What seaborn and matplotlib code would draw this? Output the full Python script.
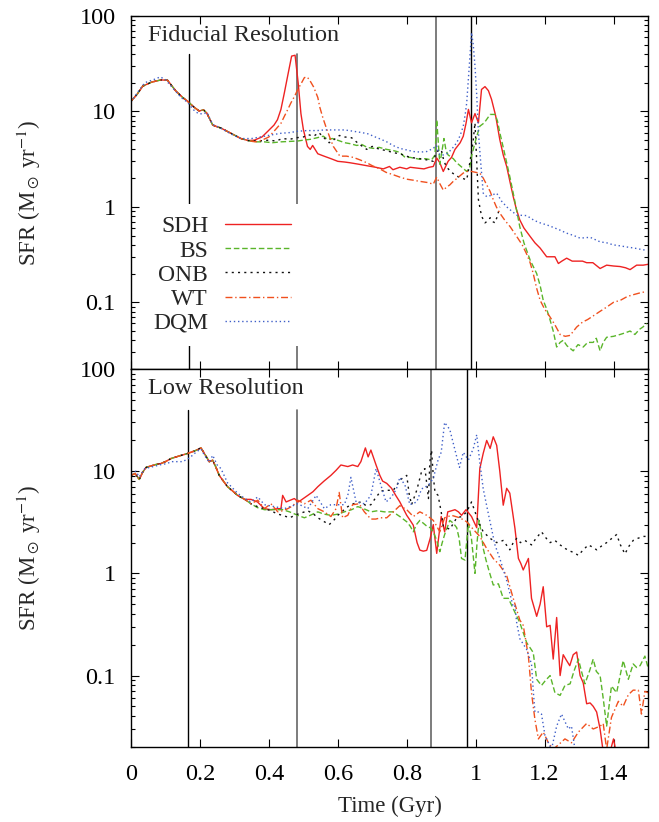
import numpy as np
import pandas as pd
import matplotlib
matplotlib.use("Agg")
import matplotlib.pyplot as plt
from matplotlib.ticker import FixedLocator, LogLocator, NullFormatter, FuncFormatter
import seaborn as sns

# ---------------- data: star formation rate (Msun/yr) vs time (Gyr) ----------------
# shared early history (fiducial resolution)
fid_early_t = [0.0, 0.017, 0.034, 0.06, 0.087, 0.106, 0.13, 0.15, 0.164, 0.184, 0.198, 0.21,
               0.22, 0.237, 0.25, 0.261, 0.29, 0.319, 0.34]
fid_early_v = [12.8, 15.0, 18.4, 20.3, 21.4, 21.2, 16.4, 14.0, 12.8, 11.0, 10.1, 10.4,
               9.6, 7.2, 6.9, 6.7, 5.9, 5.2, 4.95]

fid_sdh_t = [0.358, 0.38, 0.397, 0.415, 0.425, 0.435, 0.445, 0.455, 0.466, 0.476, 0.485, 0.493,
             0.5, 0.512, 0.52, 0.527, 0.542, 0.56, 0.58, 0.6, 0.62, 0.635, 0.66, 0.684, 0.71,
             0.732, 0.75, 0.76, 0.78, 0.8, 0.81, 0.829, 0.85, 0.865, 0.877, 0.887, 0.896,
             0.906, 0.92, 0.93, 0.94, 0.955, 0.964, 0.972, 0.979, 0.988, 0.998, 1.008, 1.017,
             1.027, 1.037, 1.046, 1.058, 1.07, 1.08, 1.09, 1.1, 1.109, 1.118, 1.128, 1.14,
             1.158, 1.172, 1.187, 1.206, 1.23, 1.24, 1.25, 1.264, 1.28, 1.293, 1.31, 1.322,
             1.34, 1.361, 1.38, 1.4, 1.419, 1.435, 1.448, 1.467, 1.486, 1.5]
fid_sdh_v = [5.0, 5.4, 6.2, 7.2, 8.2, 10.5, 15.7, 24.0, 38.0, 38.8, 20.0, 9.5,
             6.5, 4.3, 4.0, 4.4, 3.6, 3.4, 3.2, 3.0, 2.95, 2.9, 2.8, 2.7, 2.6,
             2.5, 2.65, 2.45, 2.6, 2.5, 2.6, 2.55, 2.5, 2.6, 2.65, 3.25, 2.9,
             2.35, 3.0, 3.3, 4.0, 4.7, 5.5, 7.5, 10.5, 7.6, 9.5, 7.6, 17.0,
             18.2, 16.5, 13.4, 9.0, 5.07, 3.5, 2.65, 1.8, 1.28, 0.95, 0.73, 0.6,
             0.49, 0.42, 0.37, 0.30, 0.30, 0.255, 0.27, 0.29, 0.27, 0.27, 0.27, 0.26,
             0.26, 0.226, 0.245, 0.24, 0.237, 0.23, 0.22, 0.245, 0.245, 0.25]

fid_bs_t = [0.36, 0.387, 0.41, 0.435, 0.46, 0.484, 0.5, 0.52, 0.54, 0.558, 0.57, 0.585, 0.606,
            0.62, 0.635, 0.655, 0.67, 0.685, 0.703, 0.72, 0.742, 0.76, 0.78, 0.795, 0.81,
            0.838, 0.855, 0.872, 0.882, 0.887, 0.892, 0.896, 0.903, 0.908, 0.914, 0.92,
            0.935, 0.945, 0.96, 0.974, 0.983, 0.988, 1.0, 1.012, 1.025, 1.042, 1.056, 1.063,
            1.07, 1.08, 1.09, 1.1, 1.109, 1.118, 1.128, 1.14, 1.158, 1.177, 1.187, 1.196,
            1.206, 1.216, 1.225, 1.235, 1.245, 1.254, 1.265, 1.283, 1.297, 1.312, 1.325,
            1.341, 1.35, 1.361, 1.37, 1.38, 1.4, 1.419, 1.435, 1.448, 1.462, 1.475, 1.485, 1.496]
fid_bs_v = [4.8, 4.8, 4.7, 4.8, 4.85, 4.9, 5.0, 5.1, 5.3, 5.5, 5.1, 5.2, 4.9,
            4.7, 4.6, 4.4, 4.5, 4.2, 4.1, 4.2, 4.0, 3.9, 3.73, 3.3, 3.3,
            3.15, 3.2, 3.1, 3.5, 8.2, 4.5, 2.8, 4.0, 5.2, 3.9, 3.5,
            3.2, 2.9, 2.6, 2.35, 2.6, 3.4, 5.0, 7.0, 7.6, 9.3, 9.3, 8.0,
            6.0, 4.2, 2.9, 2.0, 1.39, 0.95, 0.62, 0.42, 0.277, 0.2, 0.15, 0.105,
            0.085, 0.065, 0.05, 0.034, 0.038, 0.04, 0.035, 0.031, 0.036, 0.034, 0.038,
            0.038, 0.042, 0.031, 0.038, 0.043, 0.044, 0.046, 0.048, 0.05, 0.046, 0.052, 0.055, 0.06]

fid_onb_t = [0.37, 0.4, 0.42, 0.44, 0.46, 0.48, 0.5, 0.515, 0.53, 0.545, 0.56, 0.575, 0.59,
             0.605, 0.62, 0.64, 0.66, 0.684, 0.7, 0.722, 0.74, 0.761, 0.78, 0.81, 0.838, 0.86,
             0.877, 0.887, 0.9, 0.908, 0.916, 0.93, 0.945, 0.96, 0.974, 0.983, 0.993, 0.998,
             1.003, 1.008, 1.017, 1.027, 1.037, 1.042, 1.05, 1.056, 1.063, 1.07]
fid_onb_v = [4.9, 5.0, 4.9, 5.2, 5.1, 5.3, 5.4, 5.7, 5.5, 6.0, 5.3, 4.7, 5.1,
             5.6, 5.4, 5.3, 4.6, 4.0, 4.3, 4.0, 3.9, 3.7, 3.6, 3.3, 3.2, 3.1,
             3.0, 3.8, 4.0, 3.0, 2.6, 2.3, 2.1, 2.0, 1.92, 2.9, 5.0, 7.6,
             3.0, 1.19, 0.8, 0.68, 0.72, 0.77, 0.7, 0.68, 0.8, 1.0]

fid_wt_t = [0.36, 0.38, 0.4, 0.42, 0.435, 0.445, 0.455, 0.464, 0.475, 0.484, 0.495, 0.503,
            0.51, 0.517, 0.53, 0.542, 0.548, 0.557, 0.568, 0.578, 0.587, 0.606, 0.625, 0.645,
            0.665, 0.684, 0.7, 0.722, 0.74, 0.761, 0.78, 0.8, 0.82, 0.838, 0.86, 0.877,
            0.887, 0.896, 0.906, 0.915, 0.925, 0.935, 0.95, 0.964, 0.975, 0.988, 1.0, 1.012,
            1.022, 1.032, 1.042, 1.051, 1.06, 1.07, 1.085, 1.1, 1.119, 1.135, 1.148, 1.158,
            1.167, 1.177, 1.187, 1.2, 1.216, 1.23, 1.245, 1.26, 1.274, 1.293, 1.31, 1.325,
            1.341, 1.36, 1.38, 1.4, 1.42, 1.44, 1.457, 1.475, 1.496]
fid_wt_v = [4.8, 5.0, 5.4, 6.5, 7.5, 8.9, 10.5, 12.3, 14.5, 17.0, 20.0, 22.6,
            23.0, 21.7, 18.0, 14.0, 11.0, 8.5, 6.5, 5.2, 4.3, 3.4, 3.4, 3.3,
            3.1, 2.9, 2.7, 2.5, 2.3, 2.17, 2.05, 1.95, 1.9, 1.85, 1.8, 1.73,
            2.05, 1.75, 1.5, 1.6, 1.7, 1.85, 2.05, 2.26, 2.35, 2.35, 2.3, 2.26,
            2.0, 1.7, 1.45, 1.19, 1.0, 0.86, 0.72, 0.62, 0.49, 0.4, 0.32, 0.26,
            0.2, 0.14, 0.105, 0.085, 0.07, 0.058, 0.046, 0.044, 0.045, 0.055, 0.062, 0.066,
            0.072, 0.08, 0.089, 0.1, 0.105, 0.115, 0.12, 0.125, 0.13]

fid_dqm_t = [0.0, 0.02, 0.04, 0.065, 0.085, 0.1, 0.125, 0.145, 0.164, 0.18, 0.195, 0.21, 0.22,
             0.237, 0.26, 0.29, 0.319, 0.35, 0.387, 0.41, 0.435, 0.46, 0.484, 0.51, 0.54,
             0.56, 0.58, 0.62, 0.645, 0.67, 0.69, 0.703, 0.72, 0.742, 0.76, 0.78, 0.8, 0.819,
             0.84, 0.858, 0.877, 0.886, 0.896, 0.906, 0.916, 0.93, 0.945, 0.955, 0.964, 0.97,
             0.974, 0.98, 0.988, 0.993, 0.998, 1.003, 1.008, 1.015, 1.022, 1.032, 1.045,
             1.061, 1.075, 1.09, 1.105, 1.119, 1.148, 1.17, 1.187, 1.21, 1.225, 1.245, 1.264,
             1.285, 1.303, 1.332, 1.361, 1.38, 1.399, 1.42, 1.438, 1.46, 1.477, 1.496]
fid_dqm_v = [12.5, 16.0, 20.0, 21.5, 23.0, 21.5, 17.0, 14.0, 12.5, 10.5, 9.5, 9.4, 9.8,
             7.3, 6.7, 5.8, 5.2, 5.2, 5.5, 5.7, 5.9, 6.0, 6.2, 6.3, 6.3,
             6.4, 6.4, 6.4, 6.2, 6.0, 5.8, 5.5, 5.2, 4.8, 4.4, 4.1, 3.95, 3.8,
             3.75, 3.8, 4.1, 4.4, 3.5, 3.5, 3.6, 4.0, 4.7, 5.6, 7.0, 9.5,
             12.3, 25.0, 67.0, 50.0, 30.0, 15.0, 6.0, 2.8, 1.39, 1.28, 1.32,
             1.39, 1.15, 1.0, 0.9, 0.82, 0.81, 0.72, 0.68, 0.64, 0.61, 0.57, 0.53,
             0.5, 0.47, 0.48, 0.43, 0.42, 0.4, 0.39, 0.38, 0.37, 0.36, 0.35]

# shared early history (low resolution)
low_early_t = [0.0, 0.012, 0.024, 0.034, 0.044, 0.06, 0.075, 0.087, 0.1, 0.116, 0.14, 0.164,
               0.185, 0.203, 0.215, 0.227, 0.237, 0.246, 0.256, 0.268, 0.28, 0.295, 0.309, 0.33]
low_early_v = [9.1, 9.5, 8.3, 9.8, 10.9, 11.3, 11.7, 11.9, 12.4, 13.3, 14.1, 14.9,
               15.8, 16.9, 14.5, 12.4, 12.8, 11.0, 9.1, 8.0, 7.05, 6.4, 5.8, 5.3]

low_sdh_t = [0.348, 0.367, 0.387, 0.406, 0.426, 0.435, 0.44, 0.45, 0.462, 0.474, 0.485, 0.493,
             0.513, 0.528, 0.542, 0.56, 0.58, 0.595, 0.609, 0.629, 0.643, 0.658, 0.667, 0.68,
             0.688, 0.696, 0.711, 0.722, 0.73, 0.742, 0.756, 0.768, 0.78, 0.79, 0.8, 0.81,
             0.819, 0.83, 0.838, 0.848, 0.858, 0.868, 0.877, 0.887, 0.9, 0.91, 0.919, 0.93,
             0.94, 0.95, 0.959, 0.972, 0.988, 1.003, 1.012, 1.022, 1.032, 1.042, 1.051, 1.061,
             1.07, 1.08, 1.09, 1.099, 1.107, 1.114, 1.124, 1.131, 1.138, 1.153, 1.162, 1.177,
             1.187, 1.196, 1.206, 1.216, 1.225, 1.235, 1.245, 1.254, 1.264, 1.273, 1.283,
             1.293, 1.303, 1.312, 1.322, 1.332, 1.341, 1.351, 1.361, 1.37, 1.38, 1.39, 1.4,
             1.41, 1.42, 1.45, 1.5]
low_sdh_v = [5.3, 5.0, 4.3, 4.2, 4.3, 4.3, 5.8, 5.0, 5.2, 5.4, 5.0, 5.2,
             5.8, 6.3, 7.05, 8.0, 9.1, 10.2, 11.5, 11.1, 11.5, 11.1, 12.4, 16.9,
             13.8, 16.1, 11.5, 9.1, 8.0, 7.6, 6.8, 5.8, 5.0, 4.3, 3.7, 3.3,
             2.96, 2.0, 1.69, 1.65, 1.68, 2.2, 3.0, 1.57, 3.6, 2.55, 4.0, 4.1,
             4.2, 4.0, 3.7, 4.2, 3.6, 2.8, 10.6, 15.0, 20.0, 16.7, 21.7, 17.9,
             10.0, 4.65, 6.8, 6.1, 4.0, 2.75, 1.4, 1.25, 1.08, 1.4, 0.57, 0.38,
             0.5, 0.74, 0.3, 0.31, 0.145, 0.37, 0.1, 0.16, 0.14, 0.125, 0.16,
             0.17, 0.1, 0.085, 0.053, 0.054, 0.05, 0.044, 0.03, 0.018, 0.012, 0.018, 0.024,
             0.016, 0.012, 0.01, 0.01]

low_bs_t = [0.348, 0.367, 0.387, 0.41, 0.44, 0.46, 0.484, 0.503, 0.52, 0.542, 0.56, 0.58, 0.6,
            0.619, 0.64, 0.658, 0.675, 0.696, 0.715, 0.735, 0.76, 0.78, 0.8, 0.81, 0.819, 0.828,
            0.838, 0.848, 0.858, 0.868, 0.877, 0.887, 0.896, 0.903, 0.91, 0.925, 0.935, 0.945,
            0.952, 0.959, 0.969, 0.979, 0.988, 0.998, 1.004, 1.01, 1.016, 1.022, 1.03, 1.037,
            1.051, 1.066, 1.08, 1.095, 1.109, 1.128, 1.148, 1.167, 1.177, 1.191, 1.203, 1.216,
            1.23, 1.245, 1.259, 1.274, 1.285, 1.298, 1.307, 1.317, 1.33, 1.341, 1.35, 1.361,
            1.37, 1.38, 1.394, 1.409, 1.428, 1.443, 1.457, 1.467, 1.477, 1.491, 1.5]
low_bs_v = [4.8, 4.4, 4.2, 4.2, 4.2, 4.0, 3.7, 3.5, 3.7, 4.0, 3.8, 3.7, 3.8,
            4.0, 4.2, 4.5, 4.3, 4.0, 4.1, 4.0, 4.0, 3.6, 3.2, 2.9, 2.55, 3.0,
            3.3, 3.1, 2.9, 2.8, 2.55, 2.1, 1.63, 2.0, 2.4, 3.3, 3.1, 2.8,
            2.2, 1.4, 1.35, 3.1, 2.15, 1.0, 2.0, 3.3, 2.5, 1.75, 1.35, 1.11,
            0.77, 0.79, 0.57, 0.57, 0.45, 0.33, 0.21, 0.168, 0.092, 0.08, 0.09, 0.1,
            0.068, 0.064, 0.08, 0.083, 0.11, 0.145, 0.11, 0.083, 0.11, 0.145, 0.11, 0.1,
            0.06, 0.032, 0.079, 0.068, 0.14, 0.092, 0.13, 0.12, 0.125, 0.155, 0.12]

low_onb_t = [0.348, 0.367, 0.387, 0.406, 0.426, 0.44, 0.46, 0.484, 0.513, 0.53, 0.542, 0.561,
             0.575, 0.588, 0.6, 0.615, 0.629, 0.645, 0.667, 0.682, 0.696, 0.71, 0.725, 0.742,
             0.761, 0.77, 0.78, 0.8, 0.807, 0.814, 0.829, 0.843, 0.853, 0.863, 0.867, 0.872,
             0.877, 0.882, 0.891, 0.9, 0.906, 0.925, 0.945, 0.96, 0.974, 0.988, 1.003, 1.012,
             1.022, 1.042, 1.061, 1.08, 1.099, 1.109, 1.119, 1.13, 1.143, 1.162, 1.175, 1.191,
             1.205, 1.216, 1.23, 1.245, 1.26, 1.274, 1.285, 1.298, 1.312, 1.327, 1.34, 1.351,
             1.365, 1.38, 1.395, 1.409, 1.42, 1.433, 1.445, 1.457, 1.47, 1.486, 1.5]
low_onb_v = [4.8, 4.5, 4.3, 4.1, 3.8, 3.7, 3.5, 3.8, 4.1, 3.8, 3.5, 3.2,
             3.0, 3.3, 3.7, 4.1, 4.5, 4.8, 5.0, 4.6, 4.7, 5.5, 6.4, 6.5,
             6.5, 7.2, 8.2, 9.1, 6.0, 4.7, 6.5, 9.9, 10.6, 5.4, 12.2, 16.1,
             9.0, 6.2, 5.8, 4.0, 2.9, 2.7, 3.5, 3.6, 4.0, 5.0, 3.6, 3.0,
             2.55, 2.2, 2.0, 2.1, 1.7, 2.0, 2.2, 2.0, 2.1, 1.9, 2.2, 2.55,
             2.2, 2.0, 2.1, 1.9, 1.75, 1.65, 1.6, 1.5, 1.7, 1.9, 1.8, 1.7,
             1.85, 2.0, 2.2, 2.4, 1.9, 1.55, 1.85, 2.1, 2.2, 2.3, 2.3]

low_wt_t = [0.348, 0.368, 0.387, 0.406, 0.426, 0.44, 0.455, 0.47, 0.484, 0.503, 0.522, 0.542,
            0.561, 0.58, 0.595, 0.604, 0.614, 0.629, 0.643, 0.662, 0.677, 0.696, 0.71, 0.725,
            0.742, 0.761, 0.78, 0.8, 0.819, 0.838, 0.858, 0.877, 0.887, 0.896, 0.91, 0.93,
            0.954, 0.974, 0.993, 1.012, 1.032, 1.051, 1.07, 1.09, 1.109, 1.128, 1.138, 1.153,
            1.162, 1.172, 1.182, 1.196, 1.211, 1.225, 1.24, 1.259, 1.278, 1.298, 1.322, 1.341,
            1.361, 1.37, 1.38, 1.394, 1.414, 1.428, 1.443, 1.457, 1.472, 1.481, 1.491, 1.5]
low_wt_v = [4.8, 5.2, 4.3, 4.8, 4.0, 4.1, 4.3, 4.6, 5.2, 4.8, 5.2, 4.3,
            4.0, 3.6, 4.3, 6.2, 3.5, 3.7, 4.7, 4.8, 4.0, 3.4, 3.4, 3.5,
            3.5, 4.0, 4.6, 4.2, 3.6, 4.0, 3.7, 3.3, 2.9, 2.55, 3.5, 3.7,
            3.5, 3.2, 2.7, 2.3, 1.75, 1.4, 1.2, 0.95, 0.57, 0.35, 0.31, 0.155,
            0.068, 0.037, 0.024, 0.028, 0.022, 0.019, 0.021, 0.024, 0.022, 0.028, 0.034, 0.03,
            0.032, 0.034, 0.019, 0.039, 0.056, 0.05, 0.065, 0.072, 0.072, 0.042, 0.07, 0.068]

low_dqm_t = [0.0, 0.014, 0.024, 0.04, 0.06, 0.087, 0.1, 0.12, 0.15, 0.17, 0.19, 0.203, 0.215,
             0.227, 0.237, 0.25, 0.261, 0.28, 0.309, 0.33, 0.348, 0.368, 0.387, 0.416, 0.445,
             0.47, 0.484, 0.513, 0.537, 0.561, 0.58, 0.619, 0.63, 0.638, 0.653, 0.677, 0.696,
             0.711, 0.725, 0.74, 0.756, 0.77, 0.78, 0.795, 0.809, 0.829, 0.843, 0.863, 0.877,
             0.891, 0.9, 0.91, 0.925, 0.94, 0.953, 0.964, 0.979, 0.993, 1.003, 1.012, 1.022,
             1.037, 1.056, 1.07, 1.09, 1.109, 1.114, 1.119, 1.128, 1.148, 1.162, 1.167, 1.172,
             1.182, 1.191, 1.201, 1.22, 1.235, 1.249, 1.269, 1.278, 1.288, 1.3, 1.35, 1.4, 1.5]
low_dqm_v = [9.5, 10.0, 8.8, 10.6, 11.0, 11.6, 11.8, 12.4, 12.4, 13.5, 15.5, 16.5, 14.0,
             12.2, 14.3, 11.5, 10.6, 7.7, 6.1, 5.4, 5.0, 5.6, 4.7, 4.5, 4.3,
             4.6, 4.8, 4.3, 5.8, 4.3, 4.7, 4.7, 6.0, 8.7, 5.0, 4.8, 5.8,
             10.6, 7.3, 5.0, 5.6, 6.7, 8.7, 7.3, 4.7, 5.0, 6.7, 7.3, 8.5,
             12.9, 15.3, 30.0, 25.5, 16.1, 10.9, 15.3, 12.9, 16.6, 22.7, 12.2, 6.7,
             3.8, 1.9, 1.4, 0.85, 0.47, 0.48, 0.33, 0.23, 0.18, 0.13, 0.072, 0.044,
             0.044, 0.042, 0.026, 0.019, 0.032, 0.042, 0.03, 0.032, 0.019, 0.012, 0.01, 0.012, 0.01]

models = ["SDH", "BS", "ONB", "WT", "DQM"]
colors = {"SDH": "#ee2222", "BS": "#5ab52a", "ONB": "#111111", "WT": "#f0501e", "DQM": "#3f5fc8"}
dashes = {"SDH": "-", "BS": (0, (4, 2)), "ONB": (0, (1.5, 3)),
          "WT": (0, (5, 2, 1, 2)), "DQM": (0, (1, 2))}

# epoch markers: (time, top of marker as fraction of panel height)
fid_lines = [(0.168, 0.892), (0.481, 0.892), (0.884, 1.0), (0.987, 1.0)]
low_lines = [(0.166, 0.892), (0.481, 0.892), (0.869, 1.0), (0.974, 1.0)]
line_colors = ["#000000", "#666666", "#666666", "#000000"]

xticks = [0, 0.2, 0.4, 0.6, 0.8, 1.0, 1.2, 1.4]
yticks = [0.1, 1, 10, 100]


def build(early_t, early_v, tails):
    rows = []
    for name, (t, v, shared) in tails.items():
        tt = (list(early_t) + list(t)) if shared else list(t)
        vv = (list(early_v) + list(v)) if shared else list(v)
        rows.append(pd.DataFrame({"time": tt, "sfr": vv, "model": name}))
    return pd.concat(rows, ignore_index=True)


fid = build(fid_early_t, fid_early_v, {
    "SDH": (fid_sdh_t, fid_sdh_v, True),
    "BS": (fid_bs_t, fid_bs_v, True),
    "ONB": (fid_onb_t, fid_onb_v, True),
    "WT": (fid_wt_t, fid_wt_v, True),
    "DQM": (fid_dqm_t, fid_dqm_v, False),
})
low = build(low_early_t, low_early_v, {
    "SDH": (low_sdh_t, low_sdh_v, True),
    "BS": (low_bs_t, low_bs_v, True),
    "ONB": (low_onb_t, low_onb_v, True),
    "WT": (low_wt_t, low_wt_v, True),
    "DQM": (low_dqm_t, low_dqm_v, False),
})

# ---------------- style ----------------
sns.set_style("ticks")
plt.rcParams["font.family"] = ["Liberation Serif", "DejaVu Serif"]
plt.rcParams["mathtext.fontset"] = "stix"
plt.rcParams["axes.linewidth"] = 1.0

fig = plt.figure(figsize=(6.59, 8.22), dpi=100)
ax1 = fig.add_axes([131 / 659, 1 - 369 / 822, 517 / 659, 353 / 822])
ax2 = fig.add_axes([131 / 659, 1 - 747 / 822, 517 / 659, 378 / 822])


def style_axis(ax, show_x):
    ax.set_yscale("log")
    ax.set_xlim(0, 1.5)
    ax.set_ylim(0.02, 100)
    ax.xaxis.set_major_locator(FixedLocator(xticks))
    ax.yaxis.set_major_locator(FixedLocator(yticks))
    ax.yaxis.set_minor_locator(LogLocator(base=10, subs=np.arange(2, 10)))
    ax.yaxis.set_minor_formatter(NullFormatter())
    ax.yaxis.set_major_formatter(FuncFormatter(lambda v, p: "%g" % v))
    ax.xaxis.set_major_formatter(FuncFormatter(lambda v, p: "%g" % v))
    ax.tick_params(which="both", direction="in", top=True, right=True, width=0.8,
                   labelsize=17.5, colors="black")
    ax.tick_params(which="major", length=6)
    ax.tick_params(which="minor", length=3)
    ax.tick_params(axis="y", which="major", pad=11)
    ax.tick_params(axis="x", which="major", pad=12)
    ax.tick_params(axis="x", which="minor", bottom=False, top=False)
    if not show_x:
        ax.tick_params(axis="x", labelbottom=False)
    for s in ax.spines.values():
        s.set_color("black")
        s.set_linewidth(1.0)
    ax.set_ylabel(r"SFR (M$_\odot$ yr$^{-1}$)", fontsize=16.5)
    ax.yaxis.set_label_coords(-0.17, 0.5)
    ax.set_xlabel("")


def draw(ax, df, vlines, title):
    for name in models:
        sub = df[df["model"] == name]
        sns.lineplot(data=sub, x="time", y="sfr", ax=ax, color=colors[name],
                     linestyle=dashes[name], linewidth=1.0, estimator=None,
                     sort=False, label=name, legend=False, zorder=2)
    for (xv, top), c in zip(vlines, line_colors):
        ax.axvline(xv, ymin=0, ymax=top, color=c,
                   linewidth=1.2 if c != "#000000" else 1.0, zorder=1)
    ax.text(0.033, 0.975, title, transform=ax.transAxes, fontsize=17.5,
            ha="left", va="top", zorder=5)


draw(ax1, fid, fid_lines, "Fiducial Resolution")
draw(ax2, low, low_lines, "Low Resolution")
style_axis(ax1, False)
style_axis(ax2, True)
ax2.set_xlabel("Time (Gyr)", fontsize=16.5, labelpad=8)

handles, labels = ax1.get_legend_handles_labels()
leg = ax1.legend(handles, labels, loc="upper left", bbox_to_anchor=(0.02, 0.467),
                 frameon=True, fancybox=False, framealpha=1.0, edgecolor="none",
                 facecolor="white", markerfirst=False, fontsize=17,
                 handlelength=2.8, handletextpad=0.7, labelspacing=0.11,
                 borderpad=0.5, borderaxespad=0.0)
leg.set_zorder(6)

fig.savefig("out.png", dpi=100, facecolor="white")
